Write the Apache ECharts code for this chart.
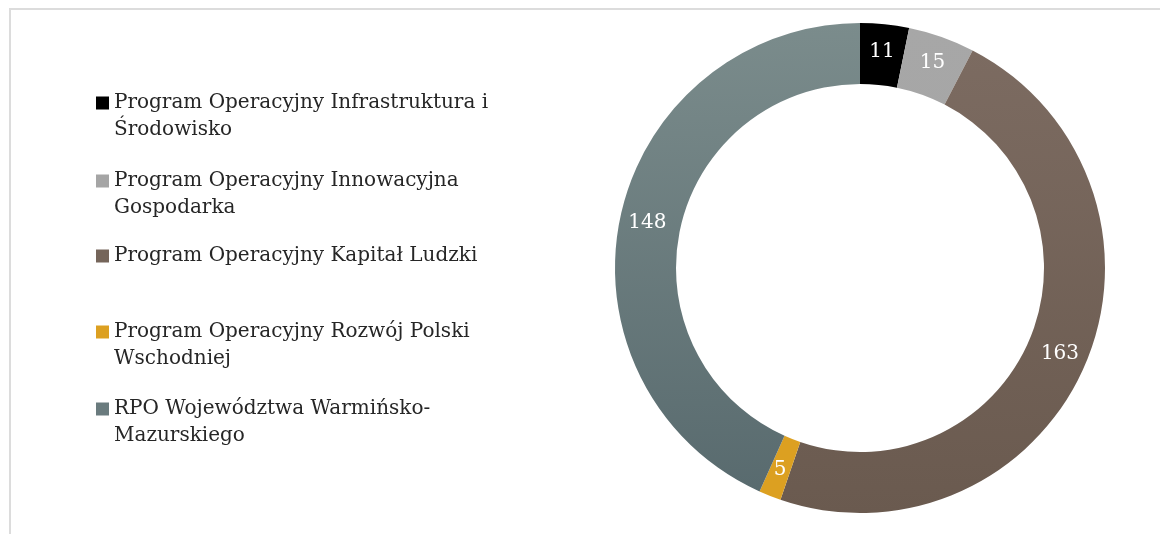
<!DOCTYPE html>
<html>
<head>
<meta charset="utf-8">
<script src="https://cdn.jsdelivr.net/npm/echarts@6/dist/echarts.min.js"></script>
<style>
  html, body { margin: 0; padding: 0; background: #fff; }
  #frame { position: absolute; left: 9px; top: 8px; width: 1200px; height: 600px;
           border-top: 2px solid #dcdcdc; border-left: 2px solid #dcdcdc; }
  #chart { position: absolute; left: 0; top: 0; width: 1160px; height: 534px; }
</style>
</head>
<body>
<div id="frame"></div>
<div id="chart"></div>
<script>
// dane
const programNames = [
  'Program Operacyjny Infrastruktura i Środowisko',
  'Program Operacyjny Innowacyjna Gospodarka',
  'Program Operacyjny Kapitał Ludzki',
  'Program Operacyjny Rozwój Polski Wschodniej',
  'RPO Województwa Warmińsko-Mazurskiego'
];
const programLegendText = [
  'Program Operacyjny Infrastruktura i\nŚrodowisko',
  'Program Operacyjny Innowacyjna\nGospodarka',
  'Program Operacyjny Kapitał Ludzki',
  'Program Operacyjny Rozwój Polski\nWschodniej',
  'RPO Województwa Warmińsko-\nMazurskiego'
];
const programValues = [11, 15, 163, 5, 148];

// kolory (góra / dół gradientu)
const colorsTop = ['#000000', '#a7a7a7', '#7d6c62', '#dca021', '#7b8c8c'];
const colorsBottom = ['#000000', '#a3a3a3', '#6a5a4f', '#dca021', '#57696d'];
const legendColors = ['#000000', '#a5a5a5', '#75655a', '#dca021', '#6a7b7e'];

const FONT = '"DejaVu Serif", "Liberation Serif", serif';
const legendIconY = [103, 181, 256, 332, 409];
const LINE_H = 27;

var myChart = echarts.init(document.getElementById('chart'), null, {
  width: 1160,
  height: 534
});

// osobna legenda dla każdego elementu; pusta linia na górze,
// żeby ikona stała przy pierwszej linii tekstu
const legends = programNames.map((name, i) => {
  const lines = programLegendText[i].split('\n').length;
  const pad = lines - 1;
  const text = '\n'.repeat(pad) + programLegendText[i];
  const boxH = (lines + pad) * LINE_H;
  return {
    data: [{ name: name, itemStyle: { color: legendColors[i] } }],
    orient: 'vertical',
    left: 96,
    top: legendIconY[i] - boxH / 2,
    padding: 0,
    itemWidth: 13,
    itemHeight: 13,
    icon: 'rect',
    selectedMode: false,
    formatter: () => text,
    textStyle: {
      fontFamily: FONT,
      fontSize: 20,
      color: '#262626',
      lineHeight: LINE_H
    }
  };
});

const option = {
  animation: false,
  legend: legends,
  series: [
    {
      name: 'Programy',
      type: 'pie',
      center: [860, 268],
      radius: [184, 245],
      startAngle: 90,
      clockwise: true,
      avoidLabelOverlap: false,
      emphasis: { disabled: true },
      label: {
        show: true,
        position: 'inside',
        color: '#ffffff',
        fontFamily: FONT,
        fontSize: 20,
        formatter: '{c}'
      },
      labelLine: { show: false },
      data: programNames.map((name, i) => ({
        name: name,
        value: programValues[i],
        itemStyle: {
          color: {
            type: 'linear', global: true,
            x: 0, y: 22, x2: 0, y2: 514,
            colorStops: [
              { offset: 0, color: colorsTop[i] },
              { offset: 1, color: colorsBottom[i] }
            ]
          }
        }
      }))
    }
  ]
};

myChart.setOption(option);
</script>
</body>
</html>
